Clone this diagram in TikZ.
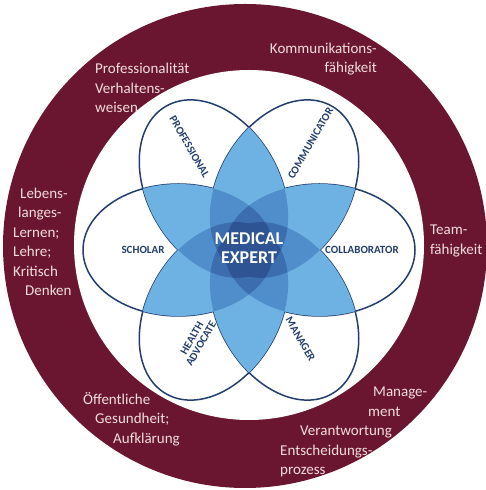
\documentclass[tikz,border=0pt]{standalone}
\usepackage{fontspec}
\setmainfont{Carlito}

\definecolor{maroon}{HTML}{6B1631}
\definecolor{ringtext}{HTML}{F0DEDB}
\definecolor{navy}{HTML}{233E6E}
\definecolor{blueA}{HTML}{6DB2E2}
\definecolor{blueB}{HTML}{4F8ECB}
\definecolor{blueC}{HTML}{3C6DAE}
\definecolor{blueD}{HTML}{2E5494}

\begin{document}
\begin{tikzpicture}[x=1pt,y=1pt,
    petal/.style={rotate=#1*60},
    ring/.style={text=ringtext,font=\fontsize{15}{19.5}\selectfont,inner sep=0pt},
    role/.style={text=navy,font=\fontsize{11}{10.5}\selectfont\bfseries,inner sep=0pt,align=center}]
    \useasboundingbox (0,0) rectangle (485,490);
    \fill[maroon] (245,244) circle [radius=242];
    \fill[white] (249,245) circle [radius=175];
    \begin{scope}[shift={(249,240)}]
    % petal outlines
    \foreach \i in {0,...,5}
        \draw[navy,line width=1.5pt,petal=\i] (70.6,0) ellipse [x radius=95.4,y radius=66];
    % two petals overlap
    \foreach \i in {0,...,5}{\foreach \j in {0,...,5}{\ifnum\i<\j\relax
        \begin{scope}
        \clip[petal=\i] (70.6,0) ellipse [x radius=95.4,y radius=66];
        \fill[blueA,petal=\j] (70.6,0) ellipse [x radius=95.4,y radius=66];
        \end{scope}
    \fi}}
    % three petals
    \foreach \i in {0,...,5}{\foreach \j in {0,...,5}{\foreach \k in {0,...,5}{%
        \ifnum\i<\j\relax\ifnum\j<\k\relax
        \begin{scope}
        \clip[petal=\i] (70.6,0) ellipse [x radius=95.4,y radius=66];
        \clip[petal=\j] (70.6,0) ellipse [x radius=95.4,y radius=66];
        \fill[blueB,petal=\k] (70.6,0) ellipse [x radius=95.4,y radius=66];
        \end{scope}
        \fi\fi}}}
    % four petals: all but two
    \foreach \m in {0,...,5}{\foreach \n in {0,...,5}{\ifnum\m<\n\relax
        \begin{scope}
        \foreach \p in {0,...,5}{\ifnum\p=\m\relax\else\ifnum\p=\n\relax\else
            \clip[petal=\p] (70.6,0) ellipse [x radius=95.4,y radius=66];\fi\fi}
        \fill[blueC] (0,0) circle [radius=60];
        \end{scope}
    \fi}}
    % five and six
    \foreach \m in {0,...,5}{
        \begin{scope}
        \foreach \p in {0,...,5}{\ifnum\p=\m\relax\else
            \clip[petal=\p] (70.6,0) ellipse [x radius=95.4,y radius=66];\fi}
        \fill[blueD] (0,0) circle [radius=45];
        \end{scope}}
    \node[role] (collab) at (0:113) {COLLABORATOR};
    \node[role] (scholar) at (180:106) {SCHOLAR};
    \node[role,rotate=-60] (prof) at (120:119) {PROFESSIONAL};
    \node[role,rotate=60] (comm) at (60:123) {COMMUNICATOR};
    \node[role,rotate=60] (health) at (240:105) {HEALTH\\ADVOCATE};
    \node[role,rotate=-60] (manager) at (300:103) {MANAGER};
    \node[text=white,font=\fontsize{18}{19}\selectfont\bfseries,align=center,inner sep=0pt] (expert) at (0,2) {MEDICAL\\EXPERT};
    \end{scope}
    % ring texts
    \node[ring,anchor=east,align=right] (komm) at (377,431) {Kommunikations-\\fähigkeit};
    \node[ring,anchor=west,align=left] (profi) at (95,402) {Professionalität\\Verhaltens-\\weisen};
    \node[ring,anchor=west,align=left] (lebens) at (13,248) {\hspace*{7pt}Lebens-\\\hspace*{5pt}langes-\\Lernen;\\Lehre;\\Kritisch\\\hspace*{12pt}Denken};
    \node[ring,anchor=west,align=left] (team) at (430,249) {Team-\\fähigkeit};
    \node[ring,anchor=west,align=left] (oeff) at (83,71) {Öffentliche\\\hspace*{12pt}Gesundheit;\\\hspace*{30pt}Aufklärung};
    \node[ring,anchor=west,align=left] (mgmt) at (280,58) {\hspace*{93pt}Manage-\\\hspace*{88pt}ment\\\hspace*{20pt}Verantwortung\\Entscheidungs-\\prozess};
\end{tikzpicture}
\end{document}
